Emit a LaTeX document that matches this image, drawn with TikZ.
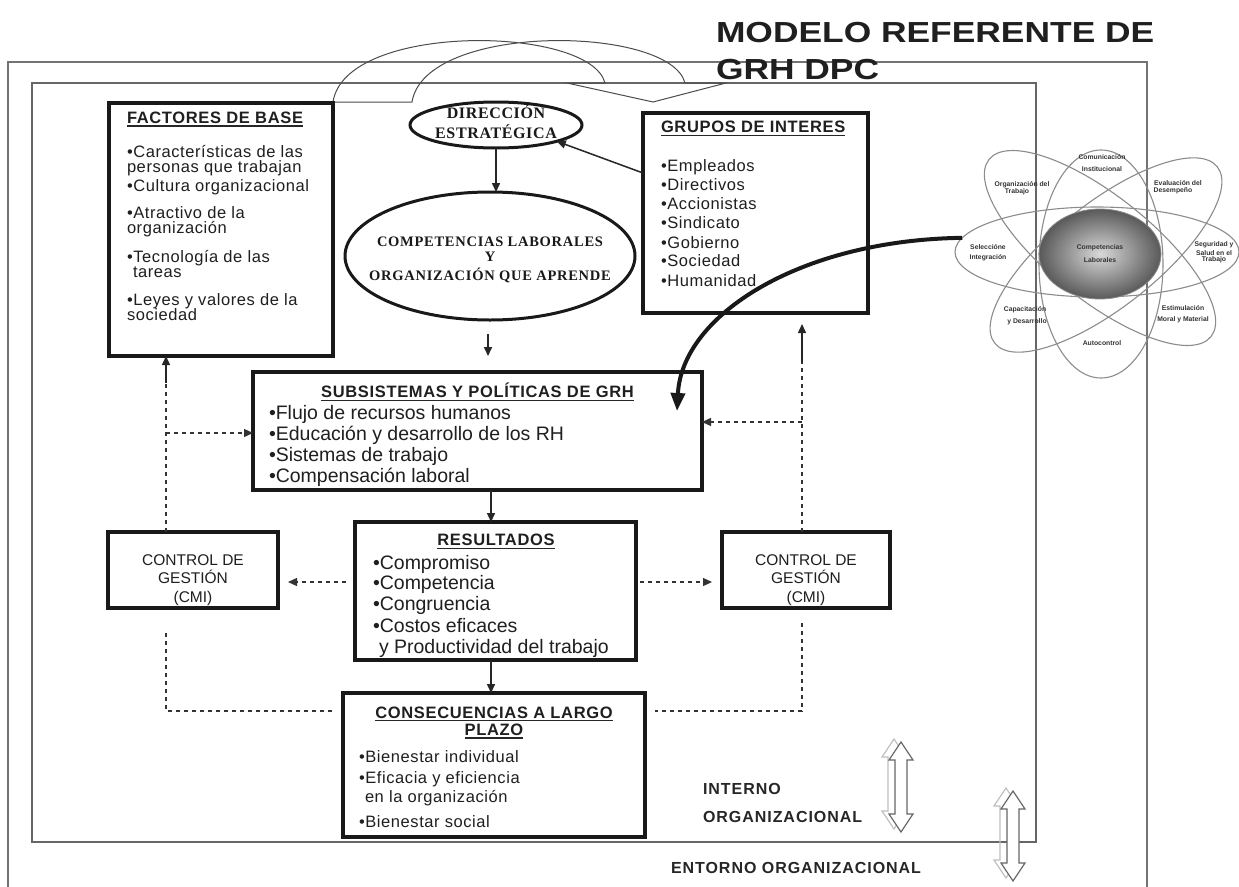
\documentclass[tikz,border=0pt]{standalone}
\usepackage{graphicx}
\usepackage{xcolor}
\usepackage{fontspec}
\setmainfont{Liberation Sans}
\newfontfamily\sptext[LetterSpace=3.5]{Liberation Sans}
\newfontfamily\sptitle[LetterSpace=4]{Liberation Sans}
\newfontfamily\spzone[LetterSpace=6]{Liberation Sans}
\newfontfamily\spserif[LetterSpace=5]{Liberation Serif}
\newfontfamily\spserifd[LetterSpace=4]{Liberation Serif}
\usetikzlibrary{shapes.geometric,arrows.meta,calc}
\newcommand\fsz[1]{\fontsize{#1pt}{#1pt}\selectfont}
\newcommand\widetext[1]{\scalebox{1.22}[1]{#1}}
\begin{document}
\begin{tikzpicture}[x=1pt,y=-1pt,
  box/.style={draw=black!90,line width=3.4pt,rectangle,inner sep=0pt,outer sep=0pt},
  oval/.style={draw=black!90,line width=3pt,ellipse,inner sep=0pt,outer sep=0pt},
  frame/.style={draw=black!55,line width=1.3pt},
  lbl/.style={inner sep=0pt,outer sep=0pt,anchor=base west,text=black!88},
  ttl/.style={lbl,font=\sptitle\bfseries\fsz{16.5}},
  itm/.style={lbl,font=\sptext\fsz{16.5}},
  itmb/.style={lbl,font=\fsz{19.5}},
  ctl/.style={inner sep=0pt,outer sep=0pt,anchor=base,text=black!88,font=\fsz{15.5}},
  srf/.style={inner sep=0pt,outer sep=0pt,anchor=base,text=black!90,font=\spserifd\bfseries\fsz{16}},
  srfs/.style={srf,font=\spserif\bfseries\fsz{14.5}},
  zone/.style={lbl,font=\spzone\bfseries\fsz{16},text=black!85},
  bigt/.style={inner sep=0pt,outer sep=0pt,anchor=base west,text=black!88,font=\bfseries\fsz{29}},
  orbit/.style={ellipse,draw=black!45,line width=1.1pt,inner sep=0pt,outer sep=0pt},
  atm/.style={inner sep=0pt,outer sep=0pt,anchor=center,text=black!80,font=\bfseries\fsz{6.8}},
  tip/.style={-{Triangle[length=9pt,width=8pt]}},
  arr/.style={draw=black!85,line width=1.5pt,tip},
  dsh/.style={draw=black!80,line width=1.3pt,dash pattern=on 4pt off 4pt},
  uline/.style={draw=black!85,line width=1.2pt},
  dbl/.pic={
    \draw[draw=black!25,line width=1.2pt,shift={(-7,-3)}] (0,0) -- (12,18) -- (6,18) -- (6,72) -- (12,72) -- (0,90) -- (-12,72) -- (-6,72) -- (-6,18) -- (-12,18) -- cycle;
    \draw[draw=black!60,line width=1.2pt,fill=white] (0,0) -- (12,18) -- (6,18) -- (6,72) -- (12,72) -- (0,90) -- (-12,72) -- (-6,72) -- (-6,18) -- (-12,18) -- cycle;
  }
]
\useasboundingbox (0,0) rectangle (1239,886);
\fill[white] (0,0) rectangle (1239,886);

% frames
\draw[frame] (8,900) -- (8,62) -- (1147,62) -- (1147,900);
\node[draw=black!60,line width=1.3pt,rectangle,inner sep=0pt,outer sep=0pt,minimum width=1004pt,minimum height=759pt] (inner) at (534,462.5) {};

% title
\node[bigt] (t1) at (716,42.5) {\widetext{MODELO REFERENTE DE}};
\node[bigt] (t2) at (716,79) {\widetext{GRH DPC}};

% curved block arrow at top
\draw[draw=black!70,line width=1pt] (605,83) .. controls (590,25) and (345,22) .. (333,102) -- (412,102) .. controls (425,22) and (670,25) .. (685,83) -- (726,83) -- (653,102) -- (567,83) -- cycle;

% boxes
\node[box,minimum width=224pt,minimum height=253pt] (fac) at (221,229.5) {};
\node[box,minimum width=225pt,minimum height=200pt] (grp) at (755.5,213) {};
\node[box,minimum width=449pt,minimum height=118pt] (sub) at (477.5,431) {};
\node[box,minimum width=281pt,minimum height=138pt] (res) at (495.5,591) {};
\node[box,minimum width=302pt,minimum height=144pt] (cons) at (494,765) {};
\node[box,minimum width=170pt,minimum height=76pt] (ctlL) at (193,570) {};
\node[box,minimum width=168pt,minimum height=76pt] (ctlR) at (806,570) {};
\node[oval,minimum width=172pt,minimum height=46pt] (dir) at (496,125) {};
\node[oval,minimum width=290pt,minimum height=128pt] (comp) at (490,256) {};

% FACTORES DE BASE
\node[ttl] (facT) at (127,123) {FACTORES DE BASE};
\draw[uline] ([yshift=-3pt]facT.base west) -- ([yshift=-3pt]facT.base east);
\node[itm] (f1) at (127,157) {•Características de las};
\node[itm] (f1b) at (127,172) {personas que trabajan};
\node[itm] (f2) at (127,191.5) {•Cultura organizacional};
\node[itm] (f3) at (127,218) {•Atractivo de la};
\node[itm] (f3b) at (127,233.5) {organización};
\node[itm] (f4) at (127,262) {•Tecnología de las};
\node[itm] (f4b) at (133,277.5) {tareas};
\node[itm] (f5) at (127,305) {•Leyes y valores de la};
\node[itm] (f5b) at (127,320.5) {sociedad};

% GRUPOS DE INTERES
\node[ttl] (grpT) at (661,132.5) {GRUPOS DE INTERES};
\draw[uline] ([yshift=-3pt]grpT.base west) -- ([yshift=-3pt]grpT.base east);
\node[itm] (g1) at (661,171.5) {•Empleados};
\node[itm] (g2) at (661,190.5) {•Directivos};
\node[itm] (g3) at (661,209.5) {•Accionistas};
\node[itm] (g4) at (661,228.5) {•Sindicato};
\node[itm] (g5) at (661,248.5) {•Gobierno};
\node[itm] (g6) at (661,266.5) {•Sociedad};
\node[itm] (g7) at (661,286.5) {•Humanidad};

% ellipses text
\node[srf] (d1) at (496,118.5) {DIRECCIÓN};
\node[srf] (d2) at (496,138) {ESTRATÉGICA};
\node[srfs] (c1t) at (490,246) {COMPETENCIAS LABORALES};
\node[srfs] (c2t) at (490,261) {Y};
\node[srfs] (c3t) at (490,280.5) {ORGANIZACIÓN QUE APRENDE};

% SUBSISTEMAS
\node[ttl,anchor=base] (subT) at (477.5,397.5) {SUBSISTEMAS Y POLÍTICAS DE GRH};
\draw[uline] ([yshift=-3pt]subT.base west) -- ([yshift=-3pt]subT.base east);
\node[itmb] (s1) at (269,419.5) {•Flujo de recursos humanos};
\node[itmb] (s2) at (269,440.5) {•Educación y desarrollo de los RH};
\node[itmb] (s3) at (269,461.5) {•Sistemas de trabajo};
\node[itmb] (s4) at (269,482.5) {•Compensación laboral};

% RESULTADOS
\node[ttl,anchor=base] (resT) at (496,545.5) {RESULTADOS};
\draw[uline] ([yshift=-3pt]resT.base west) -- ([yshift=-3pt]resT.base east);
\node[itmb] (r1) at (373,569.5) {•Compromiso};
\node[itmb] (r2) at (373,589.5) {•Competencia};
\node[itmb] (r3) at (373,610.5) {•Congruencia};
\node[itmb] (r4) at (373,632.5) {•Costos eficaces};
\node[itmb] (r5) at (379,653.5) {y Productividad del trabajo};

% CONSECUENCIAS
\node[ttl,anchor=base] (consT) at (494,718) {CONSECUENCIAS A LARGO};
\draw[uline] ([yshift=-2.5pt]consT.base west) -- ([yshift=-2.5pt]consT.base east);
\node[ttl,anchor=base] (consT2) at (494,735.5) {PLAZO};
\draw[uline] ([yshift=-2.5pt]consT2.base west) -- ([yshift=-2.5pt]consT2.base east);
\node[itm] (k1) at (359,762.5) {•Bienestar individual};
\node[itm] (k2) at (359,783.5) {•Eficacia y eficiencia};
\node[itm] (k3) at (365,802.5) {en la organización};
\node[itm] (k4) at (359,827.5) {•Bienestar social};

% CONTROL boxes text
\node[ctl] (cl1) at (193,565.5) {CONTROL DE};
\node[ctl] (cl2) at (193,583.5) {GESTIÓN};
\node[ctl] (cl3) at (193,602.5) {(CMI)};
\node[ctl] (cr1) at (806,565.5) {CONTROL DE};
\node[ctl] (cr2) at (806,583.5) {GESTIÓN};
\node[ctl] (cr3) at (806,602.5) {(CMI)};

% zone labels
\node[zone] (z1) at (703,794) {INTERNO};
\node[zone] (z2) at (703,822) {ORGANIZACIONAL};
\node[zone] (z3) at (671,873) {ENTORNO ORGANIZACIONAL};

% double arrows
\pic (da1) at (901,742) {dbl};
\pic (da2) at (1013,791) {dbl};

% atom diagram
\node[orbit,minimum width=284pt,minimum height=90pt] (orbH) at (1097,252) {};
\node[orbit,minimum width=124pt,minimum height=228pt] (orbV) at (1101,264) {};
\node[orbit,rotate=-38.6,minimum width=284pt,minimum height=104pt] (orbD1) at (1100,248) {};
\node[orbit,rotate=38.4,minimum width=284pt,minimum height=104pt] (orbD2) at (1106,255) {};
\node[ellipse,inner sep=0pt,outer sep=0pt,minimum width=122pt,minimum height=90pt,draw=black!45,line width=0.8pt,shade,inner color=black!15,outer color=black!65] (core) at (1100,254) {};
\node[atm] (a1) at (1102,157) {Comunicación};
\node[atm] (a1b) at (1102,169) {Institucional};
\node[atm] (a2) at (1022,185) {Organización del};
\node[atm] (a2b) at (1017,192) {Trabajo};
\node[atm] (a3) at (1178,183) {Evaluación del};
\node[atm] (a3b) at (1173,191) {Desempeño};
\node[atm] (a4) at (1214,245) {Seguridad y};
\node[atm] (a4b) at (1214,253) {Salud en el};
\node[atm] (a4c) at (1214,260) {Trabajo};
\node[atm] (a5) at (988,247) {Seleccióne};
\node[atm] (a5b) at (988,258) {Integración};
\node[atm] (a6) at (1100,248) {Competencias};
\node[atm] (a6b) at (1100,260) {Laborales};
\node[atm] (a7) at (1025,310) {Capacitación};
\node[atm] (a7b) at (1027,322) {y Desarrollo};
\node[atm] (a8) at (1183,308) {Estimulación};
\node[atm] (a8b) at (1183,320) {Moral y Material};
\node[atm] (a9) at (1102,343) {Autocontrol};

% coordinates for connectors
\coordinate (ax) at (491,0);
\coordinate (lx) at (166,0);
\coordinate (rx) at (802,0);
\coordinate (c1) at (488,334);
\coordinate (c2) at (488,356);
\coordinate (lbreak) at (166,383);
\coordinate (rbreak) at (802,362);
\coordinate (rtip) at (802,324);
\coordinate (lh) at (166,433);
\coordinate (rh) at (802,422);
\coordinate (ym) at (0,582);
\coordinate (lb1) at (166,633);
\coordinate (lb2) at (166,711);
\coordinate (rb1) at (802,623);
\coordinate (rb2) at (802,711);
\coordinate (cend) at (677,411);

% solid connectors
\draw[arr] (dir.south) -- (dir.south |- comp.north);
\draw[arr] ($(grp.north west)!0.3!(grp.south west)$) -- (dir.-15);
\draw[arr] (c1) -- (c2);
\draw[arr] (sub.south -| ax) -- (res.north -| ax);
\draw[arr] (res.south -| ax) -- (cons.north -| ax);

% left feedback
\draw[dsh] (ctlL.north -| lx) -- (lbreak);
\draw[arr] (lbreak) -- (fac.south -| lx);
\draw[dsh,tip] (lh) -- (lh -| sub.west);
\draw[dsh] (lb1) -- (lb2) -- ([xshift=-9pt]cons.west |- lb2);

% right feedback
\draw[dsh] (ctlR.north -| rx) -- (rbreak);
\draw[arr] (rbreak) -- (rtip);
\draw[dsh,tip] (rh) -- (rh -| sub.east);
\draw[dsh] (rb1) -- (rb2) -- ([xshift=10pt]cons.east |- rb2);

% results to controls
\draw[dsh,tip,shorten <=9pt,shorten >=10pt] (res.west |- ym) -- (ctlL.east |- ym);
\draw[dsh,tip,shorten <=4pt,shorten >=10pt] (res.east |- ym) -- (ctlR.west |- ym);

% curved thick arrow from atom
\draw[draw=black!90,line width=4pt,-{Triangle[length=18pt,width=14pt]}] (orbH.174) .. controls (800,240) and (682,315) .. (cend);
\end{tikzpicture}
\end{document}
